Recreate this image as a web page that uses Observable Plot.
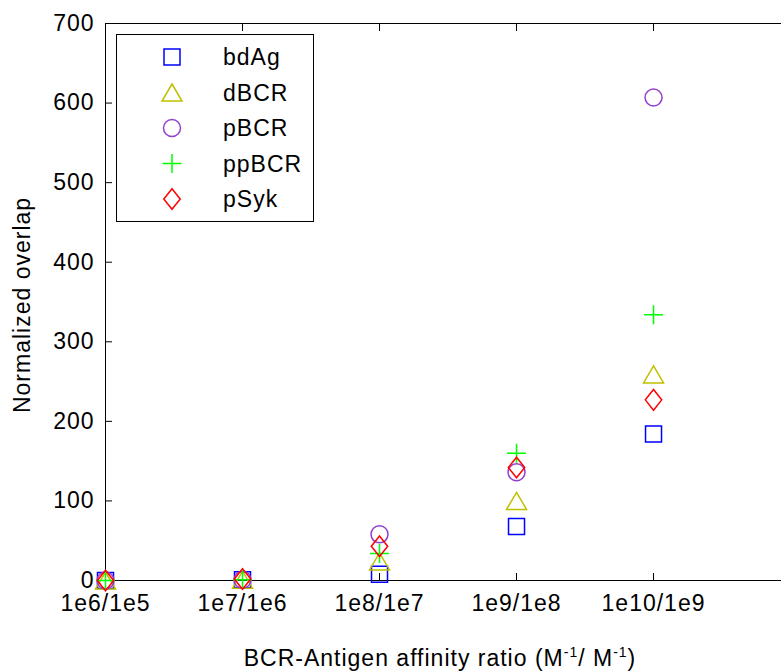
<!DOCTYPE html>
<html><head><meta charset="utf-8">
<script src="https://cdn.jsdelivr.net/npm/d3@7"></script>
<script src="https://cdn.jsdelivr.net/npm/@observablehq/plot@0.6"></script>
<style>html,body{margin:0;padding:0;background:#fff;} #chart{position:relative;width:781px;height:671px;overflow:hidden}</style>
</head><body><div id="chart"></div>
<script>
// ---- data ----
const positions = [1, 2, 3, 4, 5];
const tickLabels = ["1e6/1e5", "1e7/1e6", "1e8/1e7", "1e9/1e8", "1e10/1e9"];
const yTicks = [0, 100, 200, 300, 400, 500, 600, 700];
const seriesNames = ["bdAg", "dBCR", "pBCR", "ppBCR", "pSyk"];
const seriesColors = ["#0000ff", "#bfbf00", "#9040d0", "#00ff00", "#ff0000"];
const bdAg  = [0, 1, 8, 68, 184];
const dBCR  = [0, 1, 24, 100, 259];
const pBCR  = [0, 1, 58, 136, 607];
const ppBCR = [0, 1, 34, 160, 334];
const pSyk  = [0, 2, 43, 142, 227];
const seriesValues = [bdAg, dBCR, pBCR, ppBCR, pSyk];

// ---- MATLAB-like marker shapes (size = pi*r^2, r = 8) ----
const k = s => Math.sqrt(s / Math.PI) / 8;
const symSquare = {draw(c, s) { const h = 8 * k(s); c.moveTo(-h, -h); c.lineTo(h, -h); c.lineTo(h, h); c.lineTo(-h, h); c.closePath(); }};
const symTriangle = {draw(c, s) { const f = k(s); c.moveTo(0, -8.5 * f); c.lineTo(10 * f, 8.5 * f); c.lineTo(-10 * f, 8.5 * f); c.closePath(); }};
const symCircle = {draw(c, s) { const r = 8.5 * k(s); c.moveTo(r, 0); c.arc(0, 0, r, 0, 2 * Math.PI); c.closePath(); }};
const symPlus = {draw(c, s) { const a = 9.5 * k(s); c.moveTo(-a, 0); c.lineTo(a, 0); c.moveTo(0, -a); c.lineTo(0, a); }};
const symDiamond = {draw(c, s) { const f = k(s); c.moveTo(0, -10.3 * f); c.lineTo(8.2 * f, 0); c.lineTo(0, 10.3 * f); c.lineTo(-8.2 * f, 0); c.closePath(); }};
const seriesSymbols = [symSquare, symTriangle, symCircle, symPlus, symDiamond];

const rows = [];
seriesValues.forEach((vals, s) => vals.forEach((v, i) => rows.push({s, x: positions[i], y: v})));

const font = "'Liberation Sans', Arial, Helvetica, sans-serif";

const chart = Plot.plot({
  width: 781, height: 671,
  marginLeft: 105, marginRight: 0, marginTop: 23, marginBottom: 91,
  style: {fontFamily: font, fontSize: "23px", color: "#000", background: "#fff", letterSpacing: "1px"},
  x: {domain: [1, 5.934]},
  y: {domain: [0, 700]},
  marks: [
    Plot.ruleX([1], {stroke: "#000"}),
    Plot.ruleY([0], {stroke: "#000"}),
    Plot.ruleY([700], {stroke: "#000"}),
    Plot.axisX(positions, {anchor: "bottom", tickSize: -7, tickPadding: 21, tickFormat: d => tickLabels[positions.indexOf(d)], label: null}),
    Plot.axisX(positions, {anchor: "top", tickSize: -7, tickFormat: () => "", label: null}),
    Plot.axisY(yTicks, {anchor: "left", tickSize: -7, tickPadding: 18, label: null}),
    ...seriesNames.map((n, s) => Plot.dot(rows.filter(d => d.s === s), {
      x: "x", y: "y", r: 8, symbol: seriesSymbols[s], stroke: seriesColors[s], strokeWidth: 1.5, fill: "none"
    }))
  ]
});
document.getElementById("chart").appendChild(chart);

const svg = d3.select(chart);
// x label with superscripts
const xl = svg.append("text").attr("x", 440).attr("y", 666).attr("text-anchor", "middle")
  .attr("font-family", font).attr("font-size", 23).attr("fill", "#000");
xl.append("tspan").text("BCR-Antigen affinity ratio (M");
xl.append("tspan").attr("dy", -9).attr("font-size", 14).text("-1");
xl.append("tspan").attr("dy", 9).text("/ M");
xl.append("tspan").attr("dy", -9).attr("font-size", 14).text("-1");
xl.append("tspan").attr("dy", 9).text(")");
// y label
svg.append("text").attr("transform", "translate(30,305) rotate(-90)").attr("text-anchor", "middle")
  .attr("font-family", font).attr("font-size", 23).attr("fill", "#000").text("Normalized overlap");
// legend
const lg = svg.append("g");
lg.append("rect").attr("x", 116.5).attr("y", 34.5).attr("width", 197).attr("height", 187)
  .attr("fill", "#fff").attr("stroke", "#000").attr("stroke-width", 1);
const rowY = [57, 92.5, 128, 163.5, 199];
seriesNames.forEach((n, s) => {
  lg.append("path").attr("transform", `translate(172,${rowY[s]})`)
    .attr("d", d3.symbol(seriesSymbols[s], Math.PI * 64)())
    .attr("fill", "none").attr("stroke", seriesColors[s]).attr("stroke-width", 1.5);
  lg.append("text").attr("x", 223).attr("y", rowY[s] + 8).attr("text-anchor", "start").attr("font-family", font)
    .attr("font-size", 23).attr("fill", "#000").text(n);
});
</script>
</body></html>
